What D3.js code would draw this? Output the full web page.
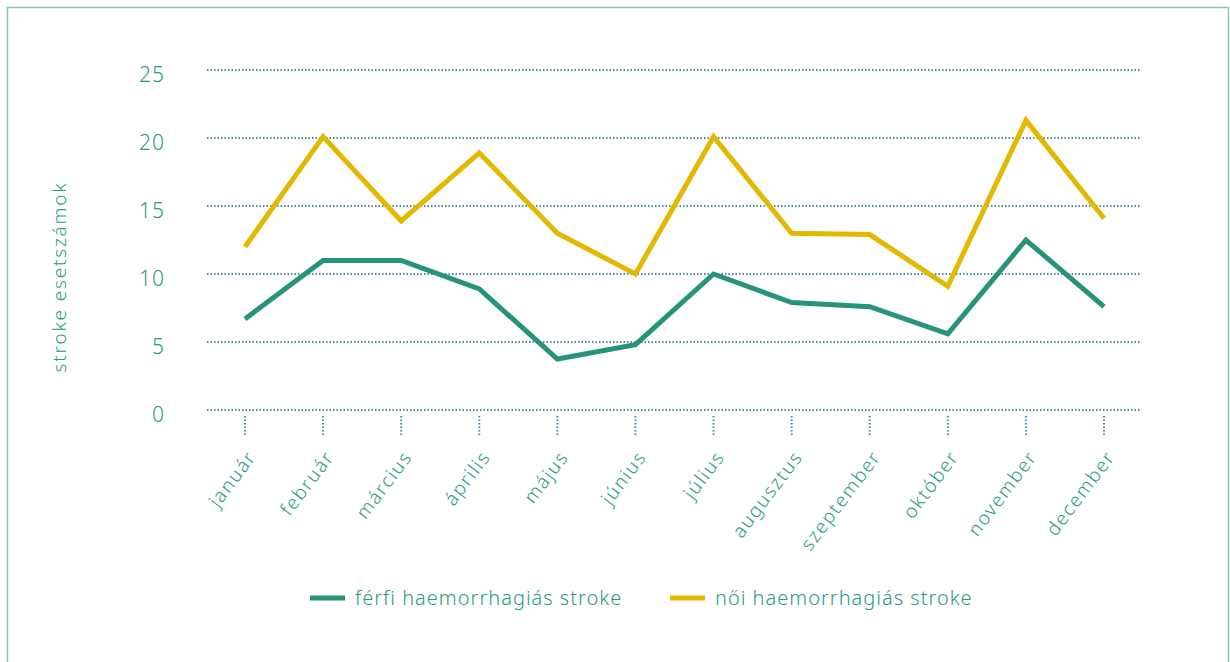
<!DOCTYPE html>
<html><head><meta charset="utf-8">
<script src="https://cdn.jsdelivr.net/npm/d3@7"></script>
<style>
body{margin:0;background:#fff;}
svg{display:block;font-family:"Noto Sans","Open Sans",sans-serif;font-weight:300;}
</style></head>
<body><svg id="c" width="1230" height="662"></svg>
<script>
const months = ["január","február","március","április","május","június","július","augusztus","szeptember","október","november","december"];
const male = [6.7,11.0,11.0,8.9,3.75,4.8,10.0,7.9,7.6,5.6,12.5,7.6];
const female = [12.0,20.1,13.9,18.9,13.0,10.0,20.1,13.0,12.9,9.1,21.3,14.1];
const yTicks = [0,5,10,15,20,25];
const seriesNames = ["férfi haemorrhagiás stroke","női haemorrhagiás stroke"];
const colors = ["#26937a","#e3b800"];
const textColor = "#2a9a80";
const gridColor = "#4f88a6";

const svg = d3.select("#c");
svg.append("rect").attr("x",7.5).attr("y",7.5).attr("width",1221).attr("height",670)
  .attr("fill","none").attr("stroke","#86c7b3").attr("stroke-width",1.5);

const x = d3.scalePoint().domain(months).range([245,1104]);
const y = d3.scaleLinear().domain([0,25]).range([410,70]);
const gx0 = 207, gx1 = 1140;

svg.append("g").selectAll("line").data(yTicks).join("line")
  .attr("x1",gx0).attr("x2",gx1).attr("y1",d=>y(d)).attr("y2",d=>y(d))
  .attr("stroke",gridColor).attr("stroke-width",2).attr("stroke-dasharray","1.5,2");

svg.append("g").selectAll("text").data(yTicks).join("text")
  .attr("x",165).attr("y",d=>y(d)+5).attr("dy","0.35em").attr("text-anchor","end")
  .attr("fill",textColor).attr("font-size",21).attr("letter-spacing",1).text(d=>d);

svg.append("g").selectAll("line").data(months).join("line")
  .attr("x1",d=>x(d)).attr("x2",d=>x(d)).attr("y1",416).attr("y2",435)
  .attr("stroke",gridColor).attr("stroke-width",2).attr("stroke-dasharray","1.5,2");

svg.append("g").selectAll("text").data(months).join("text")
  .attr("transform",d=>`translate(${x(d)+12},${457}) rotate(-53)`)
  .attr("text-anchor","end").attr("fill",textColor).attr("font-size",19)
  .attr("letter-spacing",1.6).text(d=>d);

svg.append("text").attr("transform","translate(66,277) rotate(-90)")
  .attr("text-anchor","middle").attr("fill",textColor).attr("font-size",19)
  .attr("letter-spacing",1.8).text("stroke esetszámok");

const line = d3.line().x((d,i)=>x(months[i])).y(d=>y(d));
[male,female].forEach((s,k)=>{
  svg.append("path").datum(s).attr("d",line).attr("fill","none")
    .attr("stroke",colors[k]).attr("stroke-width",5).attr("stroke-linejoin","miter");
});

const lx = [310,670];
seriesNames.forEach((n,k)=>{
  svg.append("line").attr("x1",lx[k]).attr("x2",lx[k]+35).attr("y1",598).attr("y2",598)
    .attr("stroke",colors[k]).attr("stroke-width",5);
  svg.append("text").attr("x",lx[k]+45).attr("y",598).attr("dy","0.35em")
    .attr("fill",textColor).attr("font-size",20).attr("letter-spacing",1).text(n);
});
</script></body></html>
